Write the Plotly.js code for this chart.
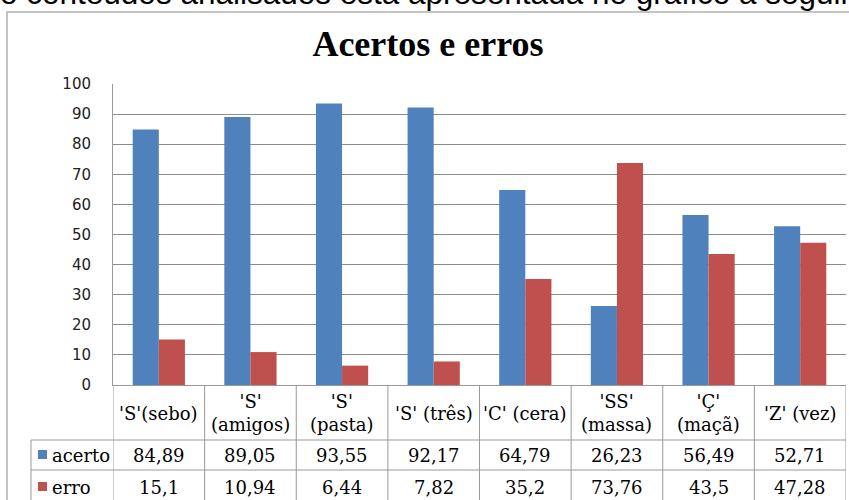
<!DOCTYPE html>
<html>
<head>
<meta charset="utf-8">
<script src="https://cdn.plot.ly/plotly-3.0.1.min.js"></script>
<style>
  html, body { margin: 0; padding: 0; background: #ffffff; }
  #chart { width: 849px; height: 500px; }
</style>
</head>
<body>
<div id="chart"></div>
<script>
// ---- data ----
const categories = ["'S'(sebo)", "'S' (amigos)", "'S' (pasta)", "'S' (três)", "'C' (cera)", "'SS' (massa)", "'Ç' (maçã)", "'Z' (vez)"];
const categoryLabels = ["'S'(sebo)", "'S'<br>(amigos)", "'S'<br>(pasta)", "'S' (três)", "'C' (cera)", "'SS'<br>(massa)", "'Ç'<br>(maçã)", "'Z' (vez)"];
const acerto = [84.89, 89.05, 93.55, 92.17, 64.79, 26.23, 56.49, 52.71];
const erro = [15.1, 10.94, 6.44, 7.82, 35.2, 73.76, 43.5, 47.28];
const seriesNames = ["acerto", "erro"];
const yTicks = [0, 10, 20, 30, 40, 50, 60, 70, 80, 90, 100];
const titleText = "Acertos e erros";
const topText = "o conteúdos analisados está apresentada no gráfico a seguir";

// ---- geometry helpers (pixel -> paper) ----
const W = 849, H = 500;
const M = { l: 113, r: 3, t: 84, b: 115 };
const PW = W - M.l - M.r, PH = H - M.t - M.b;
const px = x => (x - M.l) / PW;
const py = y => (H - M.b - y) / PH;

const blue = '#4F81BD', red = '#C0504D';
const lineCol = '#999999';
const titleFont = 'Liberation Serif';
const tableFont = 'DejaVu Serif';
const tableSize = 18;

const fmt = v => String(v).replace('.', ',');

const traces = [
  { type: 'bar', name: seriesNames[0], x: categories, y: acerto, marker: { color: blue }, hoverinfo: 'x+y' },
  { type: 'bar', name: seriesNames[1], x: categories, y: erro, marker: { color: red }, hoverinfo: 'x+y' }
];

const annotations = [];
const shapes = [];

// partly visible text at the very top (as in the reference screenshot)
annotations.push({
  xref: 'paper', yref: 'paper', x: px(-2), y: py(-7), xanchor: 'left', yanchor: 'middle',
  text: topText, showarrow: false, font: { family: 'Liberation Sans', size: 31.5, color: '#000' }
});

// header row labels and values
categories.forEach((c, i) => {
  annotations.push({ xref: 'x', yref: 'paper', x: c, y: py(413), text: categoryLabels[i], showarrow: false,
    xanchor: 'center', yanchor: 'middle', font: { family: tableFont, size: tableSize, color: '#000' } });
  annotations.push({ xref: 'x', yref: 'paper', x: c, y: py(455), text: fmt(acerto[i]), showarrow: false,
    xanchor: 'center', yanchor: 'middle', font: { family: tableFont, size: tableSize, color: '#000' } });
  annotations.push({ xref: 'x', yref: 'paper', x: c, y: py(487), text: fmt(erro[i]), showarrow: false,
    xanchor: 'center', yanchor: 'middle', font: { family: tableFont, size: tableSize, color: '#000' } });
});

// legend keys in the table
const legendRows = [{ name: seriesNames[0], color: blue, yc: 455 }, { name: seriesNames[1], color: red, yc: 487 }];
legendRows.forEach(r => {
  shapes.push({ type: 'rect', xref: 'paper', yref: 'paper', x0: px(38), x1: px(47), y0: py(r.yc + 4), y1: py(r.yc - 5),
    fillcolor: r.color, line: { width: 0 } });
  annotations.push({ xref: 'paper', yref: 'paper', x: px(50), y: py(r.yc), xanchor: 'left', yanchor: 'middle',
    text: r.name, showarrow: false, font: { family: tableFont, size: tableSize, color: '#000' } });
});

// table grid lines
for (let k = 0; k <= categories.length; k++) {
  shapes.push({ type: 'line', xref: 'x', yref: 'paper', x0: k - 0.5, x1: k - 0.5, y0: 0, y1: py(510),
    line: { color: lineCol, width: 1 } });
}
[440, 470].forEach(yy => {
  shapes.push({ type: 'line', xref: 'paper', yref: 'paper', x0: px(31), x1: 1, y0: py(yy), y1: py(yy),
    line: { color: lineCol, width: 1 } });
});
shapes.push({ type: 'line', xref: 'paper', yref: 'paper', x0: px(31), x1: px(31), y0: py(440), y1: py(510),
  line: { color: lineCol, width: 1 } });

// outer chart frame
shapes.push({ type: 'rect', xref: 'paper', yref: 'paper', x0: px(7), x1: px(900), y0: py(560), y1: py(12),
  line: { color: '#c4c4c4', width: 2 }, fillcolor: 'rgba(0,0,0,0)', layer: 'below' });

const layout = {
  width: W, height: H,
  margin: M,
  paper_bgcolor: '#ffffff', plot_bgcolor: '#ffffff',
  showlegend: false,
  barmode: 'group', bargap: 0.43, bargroupgap: 0,
  title: { text: '<b>' + titleText + '</b>', font: { family: titleFont, size: 36, color: '#000' },
    xref: 'paper', x: px(428), xanchor: 'center', yref: 'container', y: 1 - 43 / H, yanchor: 'middle' },
  xaxis: { type: 'category', showticklabels: false, showgrid: false, zeroline: false,
    showline: true, linecolor: lineCol, linewidth: 1, ticks: '', range: [-0.5, categories.length - 0.5], fixedrange: true },
  yaxis: { range: [0, 100], tickvals: yTicks, ticktext: yTicks.map(String), showgrid: true, gridcolor: '#8c8c8c', gridwidth: 1,
    zeroline: false, showline: true, linecolor: lineCol, linewidth: 1,
    ticks: 'outside', ticklen: 18, tickcolor: 'rgba(0,0,0,0)',
    tickfont: { family: 'DejaVu Sans', size: 15, color: '#222' }, fixedrange: true },
  annotations: annotations,
  shapes: shapes
};

Plotly.newPlot('chart', traces, layout, { displayModeBar: false, staticPlot: true });
</script>
</body>
</html>
